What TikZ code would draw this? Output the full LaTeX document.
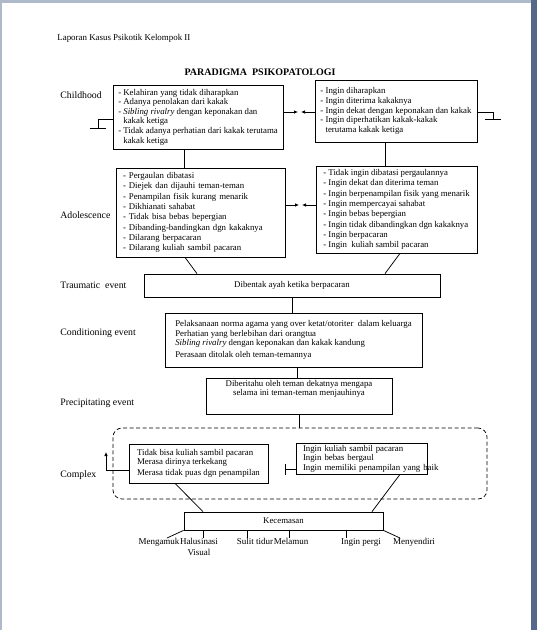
\documentclass[tikz,border=0pt]{standalone}
\usepackage{fontspec}
\setmainfont{Liberation Serif}
\usepackage{xcolor}
\usetikzlibrary{arrows.meta,positioning,calc}
\definecolor{pageedge}{HTML}{AEB9C9}
\definecolor{winframe}{HTML}{55688A}

\begin{document}
\begin{tikzpicture}[
  x=1pt, y=-1pt, line width=0.75pt,
  box/.style={draw, inner xsep=2pt, inner ysep=0pt, font=\fontsize{8.8}{9.6}\selectfont},
  lbox/.style={box, align=left},
  cbox/.style={box, align=center},
  stage/.style={anchor=west, inner sep=0pt, font=\fontsize{9.8}{11}\selectfont},
  sym/.style={anchor=north, inner sep=0pt, align=center, font=\fontsize{9}{10.5}\selectfont},
  arr/.style={-{Latex[length=4pt,width=3.5pt]}}
]
% page
\useasboundingbox (0,0) rectangle (537,630);
\fill[white] (0,0) rectangle (537,630);
\fill[pageedge] (0,0) rectangle (537,3);
\fill[pageedge] (0,0) rectangle (2,630);
\fill[winframe] (531,0) rectangle (537,630);

\node[anchor=west, inner sep=0pt, font=\fontsize{8.9}{10}\selectfont] (hdr) at (57,38) {Laporan Kasus Psikotik Kelompok II};
\node[inner sep=0pt, font=\bfseries\fontsize{10}{12}\selectfont] (ttl) at (260,72) {PARADIGMA\ \ PSIKOPATOLOGI};

% stages
\node[stage] (lChild) at (60,95) {Childhood};
\node[stage] (lAdol) at (60,215) {Adolescence};
\node[stage] (lTrau) at (60,285) {Traumatic\ \ event};
\node[stage] (lCond) at (60,333) {Conditioning event};
\node[stage] (lPrec) at (60,403) {Precipitating event};
\node[stage] (lComp) at (60,475) {Complex};

% childhood
\node[lbox, minimum width=170pt, minimum height=64pt] (chL) at (198,117) {- Kelahiran yang tidak diharapkan\\
- Adanya penolakan dari kakak\\
- \textit{Sibling rivalry} dengan keponakan dan\\
\phantom{- }kakak ketiga\\
- Tidak adanya perhatian dari kakak terutama\\
\phantom{- }kakak ketiga};
\node[lbox, minimum width=162pt, minimum height=62pt] (chR) at (396,111) {- Ingin diharapkan\\
- Ingin diterima kakaknya\\
- Ingin dekat dengan keponakan dan kakak\\
- Ingin diperhatikan kakak-kakak\\
\phantom{- }terutama kakak ketiga};

% adolescence
\node[lbox, inner xsep=7pt, text width=155pt, minimum height=89pt, font=\fontsize{8.8}{10.3}\selectfont] (adL) at (200.5,212.5) {- Pergaulan dibatasi\\
- Diejek dan dijauhi teman-teman\\
- Penampilan fisik kurang menarik\\
- Dikhianati sahabat\\
- Tidak bisa bebas bepergian\\
- Dibanding-bandingkan dgn kakaknya\\
- Dilarang berpacaran\\
- Dilarang kuliah sambil pacaran};
\node[lbox, minimum width=161pt, minimum height=87pt, font=\fontsize{8.8}{10.3}\selectfont] (adR) at (396.5,209.5) {- Tidak ingin dibatasi pergaulannya\\
- Ingin dekat dan diterima teman\\
- Ingin berpenampilan fisik yang menarik\\
- Ingin mempercayai sahabat\\
- Ingin bebas bepergian\\
- Ingin tidak dibandingkan dgn kakaknya\\
- Ingin berpacaran\\
- Ingin\ \ kuliah sambil pacaran};

% events
\node[cbox, minimum width=296pt, minimum height=23pt] (trm) at (292,285.5) {Dibentak ayah ketika berpacaran};
\node[lbox, minimum width=257pt, minimum height=54pt] (cnd) at (293.5,340) {Pelaksanaan norma agama yang over ketat/otoriter\ \ dalam keluarga\\
Perhatian yang berlebihan dari orangtua\\
\textit{Sibling rivalry} dengan keponakan dan kakak kandung\\[2pt]
Perasaan ditolak oleh teman-temannya};
\node[cbox, minimum width=186pt, minimum height=36pt, text depth=16pt] (prc) at (299,396) {Diberitahu oleh teman dekatnya mengapa\\
selama ini teman-teman menjauhinya};

% complex
\node[draw, dashed, dash pattern=on 4pt off 2.5pt, rounded corners=9pt, minimum width=374pt, minimum height=71pt] (cpx) at (300,463.5) {};
\node[lbox, minimum width=139pt, minimum height=39pt] (cpL) at (198.5,463.5) {Tidak bisa kuliah sambil pacaran\\
Merasa dirinya terkekang\\[1.5pt]
Merasa tidak puas dgn penampilan};
\node[lbox, inner xsep=7pt, text width=117pt, minimum height=31pt] (cpR) at (361.5,458.5) {Ingin kuliah sambil pacaran\\
Ingin bebas bergaul\\
\mbox{Ingin memiliki penampilan yang baik}};

\node[cbox, minimum width=199pt, minimum height=18pt] (kec) at (283.5,521) {Kecemasan};

% symptoms
\node[sym] (o1) at (159,538) {Mengamuk};
\node[sym] (o2) at (199,538) {Halusinasi\\Visual};
\node[sym] (o3) at (255,538) {Sulit tidur};
\node[sym] (o4) at (291,538) {Melamun};
\node[sym] (o5) at (361,538) {Ingin pergi};
\node[sym] (o6) at (414,538) {Menyendiri};

% connectors
\coordinate (chM) at (299.5,112);
\coordinate (adM) at (300.5,205);
\coordinate (gL) at (98,128);
\coordinate (gR) at (493,119);
\coordinate (cpUp) at (106,452);
\coordinate (cpBar) at (285,469);

\draw[arr] (chL.east |- chM) -- ([xshift=-1.5pt]chM);
\draw[arr] (chR.west |- chM) -- ([xshift=1.5pt]chM);
\draw[arr] (adL.east |- adM) -- ([xshift=-1.5pt]adM);
\draw[arr] (adR.west |- adM) -- ([xshift=1.5pt]adM);
\draw ([yshift=-2pt]chL.west) -| (gL);
\draw ([xshift=-8pt]gL) -- ([xshift=8pt]gL);
\draw ([yshift=-1pt]chR.east) -| (gR);
\draw ([xshift=-8pt]gR) -- ([xshift=8pt]gR);

\draw ([xshift=-14pt]chL.south) -- ([xshift=-14pt]chL.south |- adL.north);
\draw ([xshift=-11pt]chR.south) -- ([xshift=-11pt]chR.south |- adR.north);
\draw ([xshift=-15.5pt]adL.south) -- ([xshift=-95pt]trm.north);
\draw ([xshift=3.5pt]adR.south) -- ([xshift=93pt]trm.north);
\draw (trm.south) -- (trm.south |- cnd.north);
\draw ([xshift=3.5pt]cnd.south) -- ([xshift=3.5pt]cnd.south |- prc.north);
\draw (prc.south) -- (prc.south |- cpx.north);

\draw[arr] ([yshift=-6.5pt]cpL.west) -| (cpUp);
\draw ([yshift=-10.5pt]cpR.west) -- (cpBar);
\draw ([yshift=5.5pt]cpBar) -- ([yshift=-5.5pt]cpBar);
\draw ([xshift=-23.5pt]cpL.south) -- ([xshift=-80.5pt]kec.north);
\draw ([xshift=38.5pt]cpR.south) -- ([xshift=88.5pt]kec.north);

\draw (kec.south west) -- ([xshift=8pt]o1.north);
\draw ([xshift=4pt]o2.north |- kec.south) -- ([xshift=4pt]o2.north);
\draw ([xshift=-8pt]o3.north |- kec.south) -- ([xshift=-8pt]o3.north);
\draw ([xshift=-2pt]o4.north |- kec.south) -- ([xshift=-2pt]o4.north);
\draw ([xshift=-15pt]o5.north |- kec.south) -- ([xshift=-15pt]o5.north);
\draw (kec.south east) -- ([xshift=-14pt]o6.north);
\end{tikzpicture}
\end{document}
